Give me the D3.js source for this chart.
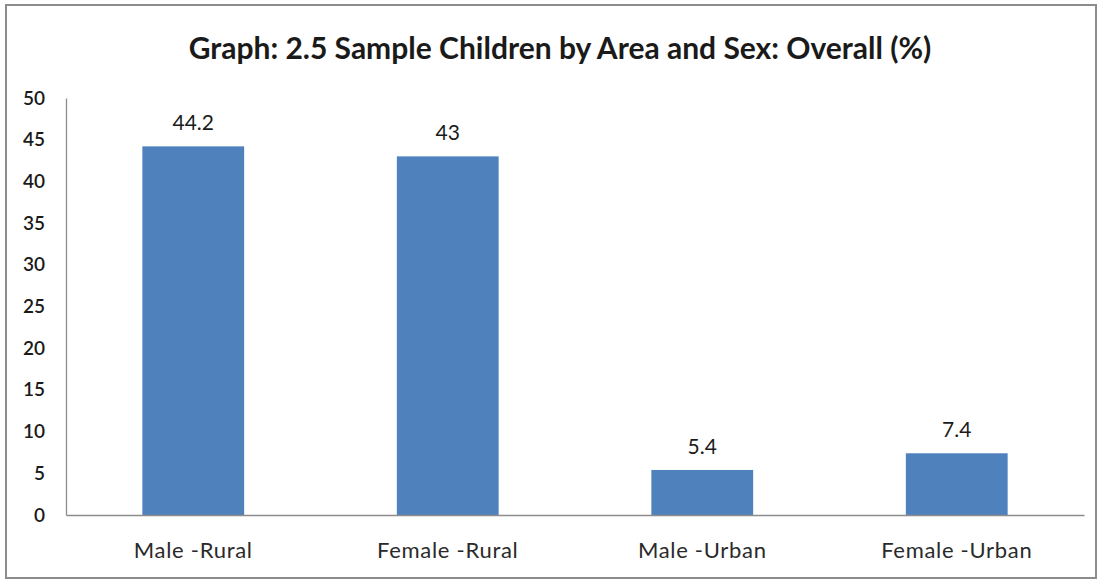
<!DOCTYPE html>
<html>
<head>
<meta charset="utf-8">
<script src="https://cdn.jsdelivr.net/npm/d3@7"></script>
<style>
  body { margin: 0; background: #fff; }
  svg { display: block; }
</style>
</head>
<body>
<div id="chart"></div>
<script>
const categories = ["Male -Rural", "Female -Rural", "Male -Urban", "Female -Urban"];
const values = [44.2, 43, 5.4, 7.4];
const valueLabels = ["44.2", "43", "5.4", "7.4"];
const yTicks = [0, 5, 10, 15, 20, 25, 30, 35, 40, 45, 50];
const title = "Graph: 2.5 Sample Children by Area and Sex: Overall (%)";

const W = 1101, H = 582;
const margin = { top: 98, right: 17, bottom: 67, left: 66 };
const width = W - margin.left - margin.right;
const height = H - margin.top - margin.bottom;
const FONT = "Lato, 'Noto Sans', sans-serif";

const svg = d3.select("#chart").append("svg")
    .attr("width", W)
    .attr("height", H);

// cadre extérieur
svg.append("rect")
    .attr("x", 6).attr("y", 5)
    .attr("width", W - 11).attr("height", H - 9)
    .attr("fill", "#fff")
    .attr("stroke", "#8c8c8c")
    .attr("stroke-width", 2);

svg.append("text")
    .attr("x", 560)
    .attr("y", 59)
    .attr("text-anchor", "middle")
    .style("font-family", FONT)
    .style("font-size", "30px")
    .style("font-weight", "bold")
    .style("fill", "#1a1a1a")
    .text(title);

const g = svg.append("g")
    .attr("transform", `translate(${margin.left},${margin.top})`);

const x = d3.scaleBand()
    .domain(categories)
    .range([0, width])
    .paddingInner(0.6)
    .paddingOuter(0.3);

const y = d3.scaleLinear()
    .domain([0, 50])
    .range([height, 0]);

// axe Y
const yAxis = g.append("g")
    .call(d3.axisLeft(y).tickValues(yTicks).tickSize(0).tickPadding(21));
yAxis.select(".domain").attr("stroke", "#8c8c8c").attr("stroke-width", 1.3);
yAxis.selectAll("text")
    .style("font-family", FONT)
    .style("font-size", "19px")
    .style("font-weight", "600")
    .style("fill", "#1a1a1a");

// barres
g.selectAll(".bar")
    .data(values)
    .enter()
    .append("rect")
    .attr("class", "bar")
    .attr("x", (d, i) => x(categories[i]))
    .attr("y", d => y(d))
    .attr("width", x.bandwidth())
    .attr("height", d => height - y(d))
    .attr("fill", "#4f81bd");

// étiquettes des valeurs
g.selectAll(".val")
    .data(values)
    .enter()
    .append("text")
    .attr("class", "val")
    .attr("x", (d, i) => x(categories[i]) + x.bandwidth() / 2)
    .attr("y", d => y(d) - 16)
    .attr("text-anchor", "middle")
    .style("font-family", FONT)
    .style("font-size", "21px")
    .style("fill", "#1a1a1a")
    .text((d, i) => valueLabels[i]);

// axe X
const xAxis = g.append("g")
    .attr("transform", `translate(0,${height})`)
    .call(d3.axisBottom(x).tickSize(0).tickPadding(27));
xAxis.select(".domain").attr("stroke", "#8c8c8c").attr("stroke-width", 1.3);
xAxis.selectAll("text")
    .style("font-family", FONT)
    .style("font-size", "22px")
    .style("letter-spacing", "0.7px")
    .style("fill", "#2a2a2a");
</script>
</body>
</html>
